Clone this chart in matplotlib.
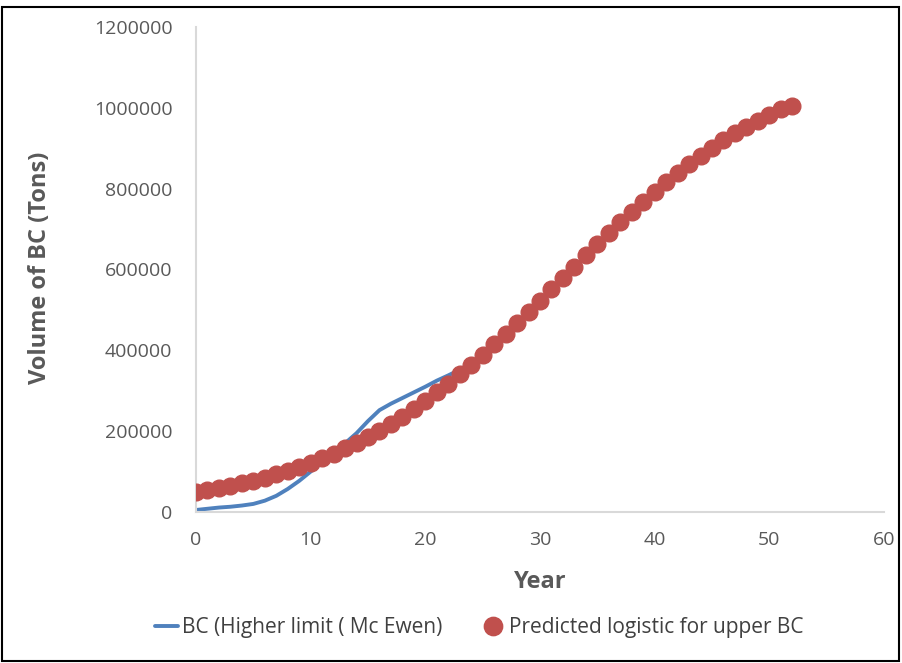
import matplotlib
matplotlib.use("Agg")
import matplotlib.pyplot as plt
from matplotlib.patches import Rectangle

plt.rcParams['font.family'] = ['Open Sans', 'DejaVu Sans']

# Observed series (BC, higher limit, Mc Ewen)
years_bc = list(range(0, 39))
bc_higher = [5000, 8000, 11000, 13000, 16000, 20000, 28000, 40000, 57000, 77000,
             100000, 122000, 145000, 170000, 195000, 225000, 252000, 268000, 282000, 296000,
             310000, 325000, 338000, 352000, 368000, 390000, 414000, 440000, 466000, 493000,
             520000, 548000, 576000, 604000, 631000, 658000, 684000, 710000, 735000]

# Logistic prediction for upper BC
years_pred = list(range(0, 53))
pred_logistic = [49000, 53800, 59000, 64700, 71000, 77800, 85200, 93200, 101900, 111400,
                 121600, 132600, 144500, 157300, 171100, 185800, 201500, 218300, 236100, 254900,
                 274800, 295800, 317800, 340700, 364600, 389400, 414900, 441100, 468000, 495300,
                 523000, 551000, 579100, 607100, 635000, 662700, 689900, 716600, 742600, 767900,
                 792400, 816100, 838700, 860400, 881100, 900700, 919200, 936700, 953200, 968600,
                 983000, 996500, 1005000]

x_ticks = [0, 10, 20, 30, 40, 50, 60]
y_ticks = [0, 200000, 400000, 600000, 800000, 1000000, 1200000]

W, H = 902, 663
fig = plt.figure(figsize=(W / 100, H / 100), dpi=100)
ax = fig.add_axes([196 / W, 1 - 512 / H, (884 - 196) / W, (512 - 27) / H])

ax.plot(years_bc, bc_higher, color='#4F81BD', lw=2.8, solid_capstyle='round',
        label='BC (Higher limit ( Mc Ewen)', zorder=2)
ax.plot(years_pred, pred_logistic, linestyle='none', marker='o', markersize=12,
        color='#C0504D', markeredgecolor='#C0504D', label='Predicted logistic for upper BC',
        zorder=3)

ax.set_xlim(0, 60)
ax.set_ylim(0, 1200000)
ax.set_xticks(x_ticks)
ax.set_yticks(y_ticks)
ax.set_xticklabels([str(v) for v in x_ticks])
ax.set_yticklabels([str(v) for v in y_ticks])
ax.tick_params(axis='both', length=0, colors='#595959', labelsize=14)
ax.tick_params(axis='y', pad=17)
ax.tick_params(axis='x', pad=14)

for side in ('top', 'right'):
    ax.spines[side].set_visible(False)
for side in ('left', 'bottom'):
    ax.spines[side].set_color('#D9D9D9')
    ax.spines[side].set_linewidth(1.5)

ax.set_xlabel('Year', fontsize=17, fontweight='bold', color='#595959')
ax.set_ylabel('Volume of BC (Tons)', fontsize=17, fontweight='bold', color='#595959')
ax.xaxis.label.set_va('center')
ax.yaxis.label.set_va('center')
ax.xaxis.set_label_coords(0.5, -(582 - 512) / 485)
ax.yaxis.set_label_coords((40 - 196) / 688, (512 - 268) / 485)

leg = fig.legend(loc='center', bbox_to_anchor=(479 / W, 1 - 628 / H), ncol=2,
                 frameon=False, fontsize=15, handlelength=1.1, handletextpad=0.2,
                 columnspacing=1.9, markerscale=1.1)
for t in leg.get_texts():
    t.set_color('#404040')

# Outer frame around the chart
fig.patches.append(Rectangle((2 / W, 2 / H), 1 - 5 / W, 1 - 9 / H, transform=fig.transFigure,
                             fill=False, edgecolor='black', linewidth=1.5))

fig.savefig('out.png', dpi=100)
